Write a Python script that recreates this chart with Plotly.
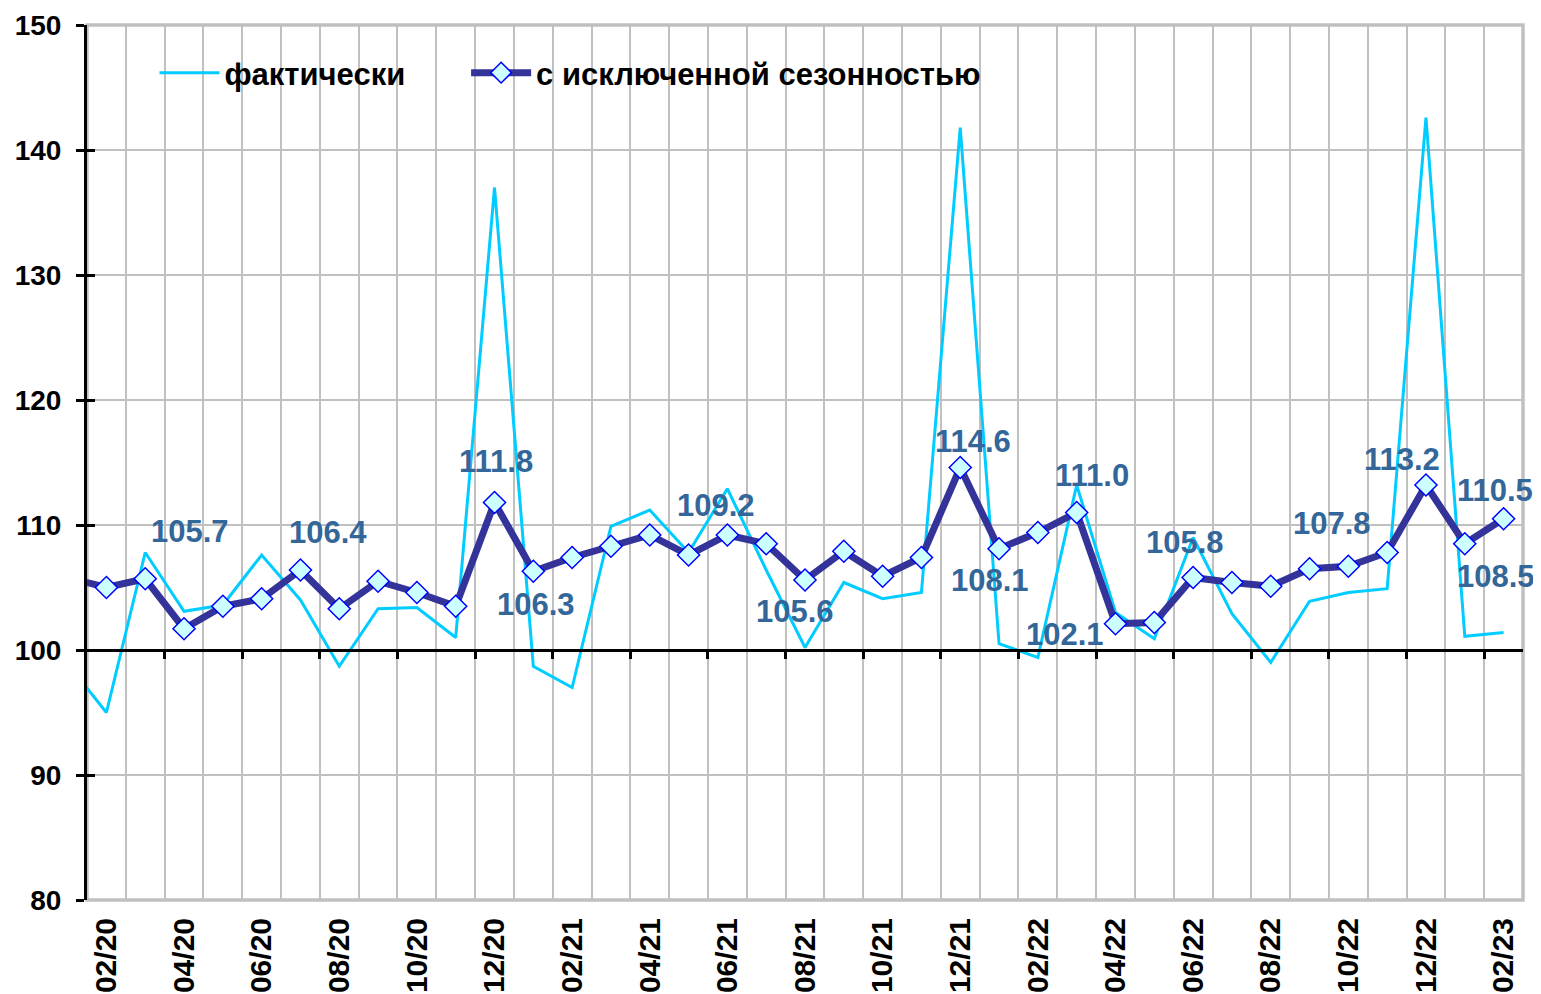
import plotly.graph_objects as go

# ---- data ----
months = ["01/20", "02/20", "03/20", "04/20", "05/20", "06/20", "07/20", "08/20", "09/20", "10/20",
          "11/20", "12/20", "01/21", "02/21", "03/21", "04/21", "05/21", "06/21", "07/21", "08/21",
          "09/21", "10/21", "11/21", "12/21", "01/22", "02/22", "03/22", "04/22", "05/22", "06/22",
          "07/22", "08/22", "09/22", "10/22", "11/22", "12/22", "01/23", "02/23"]

actual = [98.9, 95.0, 107.8, 103.1, 103.6, 107.6, 104.0, 98.7, 103.3, 103.4,
          101.0, 137.0, 98.7, 97.0, 109.9, 111.2, 107.8, 112.9, 106.4, 100.2,
          105.4, 104.1, 104.6, 141.8, 100.5, 99.4, 113.2, 103.0, 100.9, 109.0,
          102.9, 99.0, 103.9, 104.6, 104.9, 142.6, 101.1, 101.4]

seas_adj = [105.8, 105.0, 105.7, 101.7, 103.5, 104.1, 106.4, 103.3, 105.5, 104.6,
            103.5, 111.8, 106.3, 107.4, 108.3, 109.2, 107.6, 109.2, 108.5, 105.6,
            107.9, 105.9, 107.4, 114.6, 108.1, 109.4, 111.0, 102.1, 102.2, 105.8,
            105.4, 105.1, 106.5, 106.7, 107.8, 113.2, 108.5, 110.5]

labeled_points = [2, 6, 11, 12, 17, 19, 23, 24, 26, 27, 29, 34, 35, 36, 37]

# ---- label placement (pixel offsets from the point) ----
label_shift = {2: (45, 47), 6: (28, 38), 11: (1, 41), 12: (3, -33), 17: (-11, 30),
               19: (-10, -31), 23: (13, 26), 24: (-9, -32), 26: (15, 37), 27: (-50, -11),
               29: (-8, 35), 34: (-55, 29), 35: (-24, 26), 36: (31, -33), 37: (-9, 28)}

FONT = "Liberation Sans, Arial, sans-serif"
GRID = "#C0C0C0"
xpos = list(range(len(months)))
xr = [0.5, len(months) - 0.5]
legend_font = dict(family=FONT, size=31, color="black", weight="bold")

fig = go.Figure()
fig.add_trace(go.Scatter(
    x=xpos, y=actual, name="фактически", mode="lines", legend="legend",
    line=dict(color="#00CCFF", width=3), hoverinfo="skip"))
fig.add_trace(go.Scatter(
    x=xpos, y=seas_adj, name="с исключенной сезонностью", mode="lines+markers", legend="legend2",
    line=dict(color="#333399", width=7),
    marker=dict(symbol="diamond", size=17, color="#CCFFFF", line=dict(color="#0000FF", width=1.5)),
    hoverinfo="skip"))
# helper (empty) trace so the overlay axes are drawn
fig.add_trace(go.Scatter(x=[], y=[], xaxis="x3", yaxis="y2", showlegend=False, hoverinfo="skip"))

for i in labeled_points:
    dx, dy = label_shift[i]
    fig.add_annotation(x=xpos[i], y=seas_adj[i], text=f"{seas_adj[i]:.1f}", showarrow=False,
                       xshift=dx, yshift=dy,
                       font=dict(family=FONT, size=31, color="#336699", weight="bold"))

# plot-area border
fig.add_shape(type="rect", xref="paper", yref="paper", x0=0, x1=1, y0=0, y1=1,
              line=dict(color=GRID, width=3.5), layer="below")
# white legend box (hides the gridlines behind the legend, as in the original)
fig.add_shape(type="rect", xref="paper", yref="paper", x0=0.009, x1=0.664, y0=0.921, y1=0.977,
              line=dict(width=0), fillcolor="white", layer="between")

fig.update_layout(
    width=1533, height=986,
    margin=dict(l=79, r=18, t=17, b=94, autoexpand=False),
    paper_bgcolor="white", plot_bgcolor="white",
    showlegend=True,
    legend=dict(orientation="h", x=0.047, y=0.976, xanchor="left", yanchor="top",
                bgcolor="rgba(0,0,0,0)", font=legend_font, itemwidth=60),
    legend2=dict(orientation="h", x=0.264, y=0.976, xanchor="left", yanchor="top",
                 bgcolor="rgba(0,0,0,0)", font=legend_font, itemwidth=60),
    xaxis=dict(range=xr, tickmode="array", tickvals=xpos[1::2], ticktext=months[1::2],
               tickangle=-90, showgrid=False, zeroline=False, showline=False, ticks="",
               ticklabelstandoff=11, automargin=False,
               tickfont=dict(family=FONT, size=30, color="black", weight="bold"),
               minor=dict(tickmode="array", tickvals=[i + 0.5 for i in range(len(months) - 1)],
                          showgrid=True, gridcolor=GRID, gridwidth=2, ticks="")),
    yaxis=dict(range=[80, 150], tick0=80, dtick=10, showgrid=True, gridcolor=GRID, gridwidth=2,
               zeroline=False, showline=True, linecolor="black", linewidth=3,
               ticks="outside", ticklen=8, tickwidth=3, tickcolor="black",
               ticklabelstandoff=9, automargin=False,
               tickfont=dict(family=FONT, size=28, color="black", weight="bold")),
    yaxis2=dict(range=[80, 150], tick0=80, dtick=10, overlaying="y", anchor="x", side="left",
                showgrid=False, zeroline=False, showline=False, showticklabels=False,
                automargin=False,
                ticks="inside", ticklen=8, tickwidth=3, tickcolor="black"),
    xaxis3=dict(range=xr, overlaying="x", anchor="free", position=(100 - 80) / (150 - 80),
                tickmode="array", tickvals=[i + 0.5 for i in range(2, len(months) - 1, 2)],
                showgrid=False, zeroline=False, showline=True, linecolor="black", linewidth=3,
                automargin=False,
                ticks="outside", ticklen=7, tickwidth=3, tickcolor="black", showticklabels=False),
)

fig.write_html("out.html")
